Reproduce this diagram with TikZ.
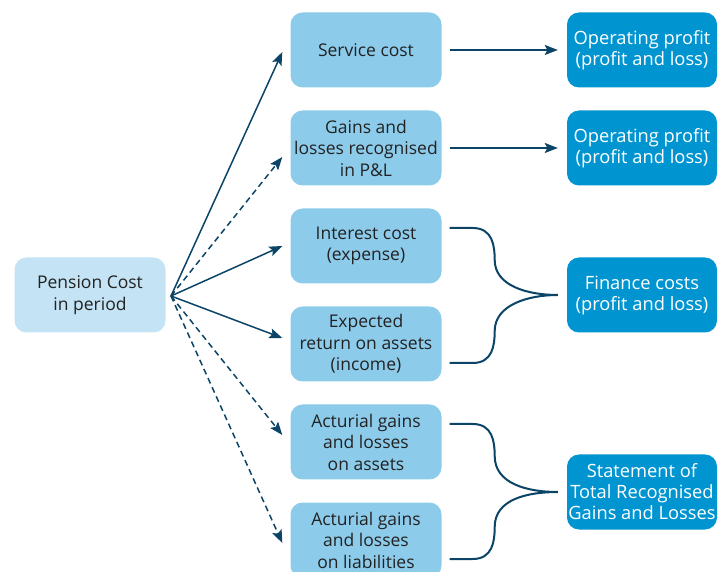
\documentclass[tikz,border=0pt]{standalone}
\usepackage{fontspec}
\setmainfont{Open Sans}
\usetikzlibrary{arrows.meta,calc}
\definecolor{paleblue}{HTML}{C4E3F4}
\definecolor{midblue}{HTML}{8DCBEB}
\definecolor{deepblue}{HTML}{0095D0}
\definecolor{navy}{HTML}{0B4466}
\definecolor{inktext}{HTML}{222222}
\tikzset{
  basebox/.style={rounded corners=12pt, minimum width=151pt, minimum height=75pt,
    align=center, inner sep=1pt, font=\fontsize{17.5}{21.5}\selectfont},
  sourcebox/.style={basebox, fill=paleblue, text=inktext},
  itembox/.style={basebox, fill=midblue, text=inktext},
  targetbox/.style={basebox, fill=deepblue, text=white, minimum width=150pt,
    font=\fontsize{18.3}{21}\selectfont},
  link/.style={draw=navy, line width=1.5pt, -{Stealth[length=13pt,width=10pt,inset=2.5pt]}},
  dlink/.style={link, dash pattern=on 6pt off 4pt},
  brace/.style={draw=navy, line width=2pt}
}
\begin{document}
\begin{tikzpicture}[x=1pt,y=-1pt]
\useasboundingbox (0,0) rectangle (724,572);

% source
\node[sourcebox] (pension) at (90,295) {Pension Cost\\in period};
\coordinate (hub) at (171,296);

% cost components
\node[itembox] (service)  at (366,50)  {Service cost};
\node[itembox] (gains)    at (366,148) {Gains and\\losses recognised\\in P\&L};
\node[itembox] (interest) at (366,246) {Interest cost\\(expense)};
\node[itembox] (expected) at (366,344) {Expected\\return on assets\\(income)};
\node[itembox] (actassets) at (366,442) {Acturial gains\\and losses\\on assets};
\node[itembox] (actliab)  at (366,540) {Acturial gains\\and losses\\on liabilities};

% destinations
\node[targetbox] (op1) at (642,50)  {Operating profit\\(profit and loss)};
\node[targetbox] (op2) at (642,148) {Operating profit\\(profit and loss)};
\node[targetbox] (fin) at (642,295) {Finance costs\\(profit and loss)};
\node[targetbox] (strgl) at (642,492) {Statement of\\Total Recognised\\Gains and Losses};

% fan-out from the pension cost
\draw[link]  (hub) -- ($(service.west)+(-8,2)$);
\draw[dlink] (hub) -- ($(gains.west)+(-8,9)$);
\draw[link]  (hub) -- ($(interest.west)+(-8,0)$);
\draw[link]  (hub) -- ($(expected.west)+(-8,-6)$);
\draw[dlink] (hub) -- ($(actassets.west)+(-8,-7)$);
\draw[dlink] (hub) -- ($(actliab.west)+(-8,3)$);

% straight transfers
\draw[link] ($(service.east)+(8,0)$) -- ($(op1.west)+(-9,0)$);
\draw[link] ($(gains.east)+(8,0)$) -- ($(op2.west)+(-9,0)$);

% braces into finance costs
\coordinate (fintip) at ($(fin.west)+(-9,0)$);
\draw[brace] ($(interest.east)+(8,-18)$) -- ++(23,0)
  .. controls +(20,0) and +(0,-14) .. ++(22,32)
  .. controls +(0,26) and +(-30,0) .. (fintip);
\draw[brace] ($(expected.east)+(8,19)$) -- ++(23,0)
  .. controls +(20,0) and +(0,14) .. ++(22,-32)
  .. controls +(0,-26) and +(-30,0) .. (fintip);

% braces into the statement
\coordinate (strtip) at ($(strgl.west)+(-9,0)$);
\draw[brace] ($(actassets.east)+(8,-18)$) -- ++(23,0)
  .. controls +(20,0) and +(0,-14) .. ++(22,32)
  .. controls +(0,28) and +(-30,0) .. (strtip);
\draw[brace] ($(actliab.east)+(8,19)$) -- ++(23,0)
  .. controls +(20,0) and +(0,14) .. ++(22,-32)
  .. controls +(0,-28) and +(-30,0) .. (strtip);
\end{tikzpicture}
\end{document}
